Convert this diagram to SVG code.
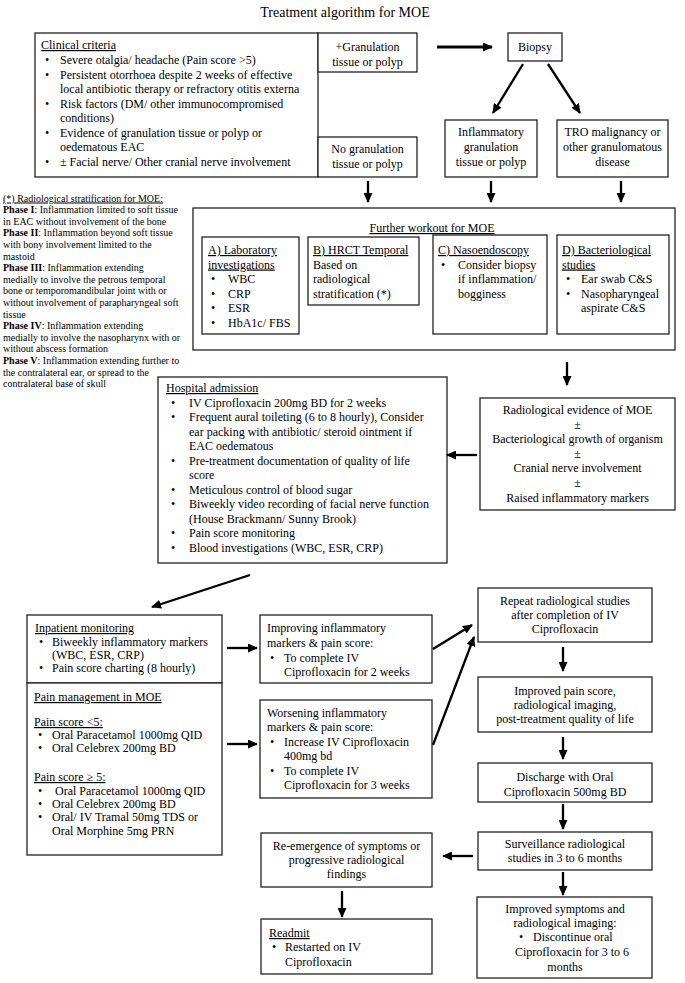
<svg xmlns="http://www.w3.org/2000/svg" width="685" height="983" viewBox="0 0 685 983">
<style>
text{font-family:"Liberation Serif","Times New Roman",serif;font-size:12px;fill:#000}
.t{font-size:14px}
.s{font-size:10px}
.c{text-anchor:middle}
.u{text-decoration:underline}
.b{font-weight:bold}
rect.n{fill:#fff;stroke:#222;stroke-width:1.3}
.ar{stroke:#000;stroke-width:2.3;fill:none;marker-end:url(#ah)}
.ar2{stroke-width:3}
</style>
<defs>
<marker id="ah" markerUnits="userSpaceOnUse" markerWidth="10" markerHeight="9" refX="9" refY="4.5" orient="auto"><path d="M0,0 L10,4.5 L0,9 z" fill="#000"/></marker>
</defs>
<rect width="685" height="983" fill="#fff"/>
<text class="t c" x="345" y="17">Treatment algorithm for MOE</text>

<g id="clinical">
<rect class="n" x="35" y="33" width="283" height="144"/>
<text class="u" x="41" y="49">Clinical criteria</text>
<text x="45" y="64">•</text><text x="60" y="64">Severe otalgia/ headache (Pain score &gt;5)</text>
<text x="45" y="78.5">•</text><text x="60" y="78.5">Persistent otorrhoea despite 2 weeks of effective</text>
<text x="60" y="93">local antibiotic therapy or refractory otitis externa</text>
<text x="45" y="107.5">•</text><text x="60" y="107.5">Risk factors (DM/ other immunocompromised</text>
<text x="60" y="122">conditions)</text>
<text x="45" y="136.5">•</text><text x="60" y="136.5">Evidence of granulation tissue or polyp or</text>
<text x="60" y="151">oedematous EAC</text>
<text x="45" y="165.5">•</text><text x="60" y="165.5">± Facial nerve/ Other cranial nerve involvement</text>
</g>
<g id="gran-yes">
<rect class="n" x="318" y="33" width="99" height="39"/>
<text class="c" x="367.5" y="51">+Granulation</text>
<text class="c" x="367.5" y="66">tissue or polyp</text>
</g>
<g id="gran-no">
<rect class="n" x="318" y="137" width="99" height="40"/>
<text class="c" x="367.5" y="153">No granulation</text>
<text class="c" x="367.5" y="168">tissue or polyp</text>
</g>
<g id="biopsy">
<rect class="n" x="508" y="33" width="54" height="28"/>
<text class="c" x="535" y="51">Biopsy</text>
</g>
<g id="inflam">
<rect class="n" x="445" y="120" width="92" height="57"/>
<text class="c" x="491" y="136">Inflammatory</text>
<text class="c" x="491" y="151">granulation</text>
<text class="c" x="491" y="166">tissue or polyp</text>
</g>
<g id="tro">
<rect class="n" x="557" y="120" width="111" height="57"/>
<text class="c" x="612.5" y="136">TRO malignancy or</text>
<text class="c" x="612.5" y="151">other granulomatous</text>
<text class="c" x="612.5" y="166">disease</text>
</g>

<g id="stratification">
<text class="s u" x="3" y="201.5">(*) Radiological stratification for MOE:</text>
<text class="s" x="3" y="213.1"><tspan class="b">Phase I</tspan>: Inflammation limited to soft tissue</text>
<text class="s" x="3" y="224.7">in EAC without involvement of the bone</text>
<text class="s" x="3" y="236.3"><tspan class="b">Phase II</tspan>: Inflammation beyond soft tissue</text>
<text class="s" x="3" y="247.9">with bony involvement limited to the</text>
<text class="s" x="3" y="259.5">mastoid</text>
<text class="s" x="3" y="271.1"><tspan class="b">Phase III</tspan>: Inflammation extending</text>
<text class="s" x="3" y="282.7">medially to involve the petrous temporal</text>
<text class="s" x="3" y="294.3">bone or temporomandibular joint with or</text>
<text class="s" x="3" y="305.9">without involvement of parapharyngeal soft</text>
<text class="s" x="3" y="317.5">tissue</text>
<text class="s" x="3" y="329.1"><tspan class="b">Phase IV</tspan>: Inflammation extending</text>
<text class="s" x="3" y="340.7">medially to involve the nasopharynx with or</text>
<text class="s" x="3" y="352.3">without abscess formation</text>
<text class="s" x="3" y="363.9"><tspan class="b">Phase V</tspan>: Inflammation extending further to</text>
<text class="s" x="3" y="375.5">the contralateral ear, or spread to the</text>
<text class="s" x="3" y="387.1">contralateral base of skull</text>
</g>

<g id="workout">
<rect class="n" x="193" y="208" width="482" height="142"/>
<text class="c u" x="432" y="232">Further workout for MOE</text>
</g>
<g id="lab">
<rect class="n" x="202" y="237" width="97" height="97"/>
<text class="u" x="208" y="254">A) Laboratory</text>
<text class="u" x="208" y="268.5">investigations</text>
<text x="211" y="283">•</text><text x="228" y="283">WBC</text>
<text x="211" y="297.5">•</text><text x="228" y="297.5">CRP</text>
<text x="211" y="312">•</text><text x="228" y="312">ESR</text>
<text x="211" y="326.5">•</text><text x="228" y="326.5">HbA1c/ FBS</text>
</g>
<g id="hrct">
<rect class="n" x="308" y="237" width="111" height="68"/>
<text class="u" x="313" y="254">B) HRCT Temporal</text>
<text x="313" y="268.5">Based on</text>
<text x="313" y="283">radiological</text>
<text x="313" y="297.5">stratification (*)</text>
</g>
<g id="naso">
<rect class="n" x="433" y="235" width="114" height="99"/>
<text class="u" x="438" y="254">C) Nasoendoscopy</text>
<text x="441" y="268.5">•</text><text x="458" y="268.5">Consider biopsy</text>
<text x="458" y="283">if inflammation/</text>
<text x="458" y="297.5">bogginess</text>
</g>
<g id="bact">
<rect class="n" x="557" y="235" width="112" height="99"/>
<text class="u" x="562" y="254">D) Bacteriological</text>
<text class="u" x="562" y="268.5">studies</text>
<text x="566" y="283">•</text><text x="581" y="283">Ear swab C&amp;S</text>
<text x="566" y="297.5">•</text><text x="581" y="297.5">Nasopharyngeal</text>
<text x="581" y="312">aspirate C&amp;S</text>
</g>

<g id="evidence">
<rect class="n" x="480" y="398" width="195" height="112"/>
<text class="c" x="577.5" y="414">Radiological evidence of MOE</text>
<text class="c" x="577.5" y="429">±</text>
<text class="c" x="577.5" y="443">Bacteriological growth of organism</text>
<text class="c" x="577.5" y="458">±</text>
<text class="c" x="577.5" y="472">Cranial nerve involvement</text>
<text class="c" x="577.5" y="487">±</text>
<text class="c" x="577.5" y="502">Raised inflammatory markers</text>
</g>

<g id="admission">
<rect class="n" x="158" y="377" width="289" height="186"/>
<text class="u" x="166" y="392">Hospital admission</text>
<text x="171" y="406.5">•</text><text x="189" y="406.5">IV Ciprofloxacin 200mg BD for 2 weeks</text>
<text x="171" y="421">•</text><text x="189" y="421">Frequent aural toileting (6 to 8 hourly), Consider</text>
<text x="189" y="435.5">ear packing with antibiotic/ steroid ointment if</text>
<text x="189" y="450">EAC oedematous</text>
<text x="171" y="464.5">•</text><text x="189" y="464.5">Pre-treatment documentation of quality of life</text>
<text x="189" y="479">score</text>
<text x="171" y="493.5">•</text><text x="189" y="493.5">Meticulous control of blood sugar</text>
<text x="171" y="508">•</text><text x="189" y="508">Biweekly video recording of facial nerve function</text>
<text x="189" y="522.5">(House Brackmann/ Sunny Brook)</text>
<text x="171" y="537">•</text><text x="189" y="537">Pain score monitoring</text>
<text x="171" y="551.5">•</text><text x="189" y="551.5">Blood investigations (WBC, ESR, CRP)</text>
</g>

<g id="inpatient">
<rect class="n" x="27" y="615" width="195" height="68"/>
<text class="u" x="35" y="632">Inpatient monitoring</text>
<text x="39" y="646">•</text><text x="52" y="646">Biweekly inflammatory markers</text>
<text x="52" y="659">(WBC, ESR, CRP)</text>
<text x="39" y="672">•</text><text x="52" y="672">Pain score charting (8 hourly)</text>
</g>
<g id="pain">
<rect class="n" x="27" y="683" width="195" height="172"/>
<text class="u" x="34" y="701">Pain management in MOE</text>
<text class="u" x="34" y="726">Pain score &lt;5:</text>
<text x="38" y="739">•</text><text x="52" y="739">Oral Paracetamol 1000mg QID</text>
<text x="38" y="752">•</text><text x="52" y="752">Oral Celebrex 200mg BD</text>
<text class="u" x="34" y="781">Pain score ≥ 5:</text>
<text x="38" y="795">•</text><text x="55" y="795">Oral Paracetamol 1000mg QID</text>
<text x="38" y="808">•</text><text x="52" y="808">Oral Celebrex 200mg BD</text>
<text x="38" y="821">•</text><text x="52" y="821">Oral/ IV Tramal 50mg TDS or</text>
<text x="52" y="835">Oral Morphine 5mg PRN</text>
</g>

<g id="improving">
<rect class="n" x="260" y="615" width="172" height="68"/>
<text x="267" y="632">Improving inflammatory</text>
<text x="267" y="647">markers &amp; pain score:</text>
<text x="270" y="662">•</text><text x="284" y="662">To complete IV</text>
<text x="284" y="676">Ciprofloxacin for 2 weeks</text>
</g>
<g id="worsening">
<rect class="n" x="260" y="700" width="172" height="98"/>
<text x="267" y="717">Worsening inflammatory</text>
<text x="267" y="731">markers &amp; pain score:</text>
<text x="270" y="746">•</text><text x="284" y="746">Increase IV Ciprofloxacin</text>
<text x="284" y="760">400mg bd</text>
<text x="270" y="775">•</text><text x="284" y="775">To complete IV</text>
<text x="284" y="789">Ciprofloxacin for 3 weeks</text>
</g>

<g id="repeat">
<rect class="n" x="478" y="588" width="174" height="54"/>
<text class="c" x="565" y="605">Repeat radiological studies</text>
<text class="c" x="565" y="619">after completion of IV</text>
<text class="c" x="565" y="633">Ciprofloxacin</text>
</g>
<g id="improved">
<rect class="n" x="478" y="677" width="174" height="55"/>
<text class="c" x="565" y="695">Improved pain score,</text>
<text class="c" x="565" y="709">radiological imaging,</text>
<text class="c" x="565" y="723">post-treatment quality of life</text>
</g>
<g id="discharge">
<rect class="n" x="478" y="763" width="174" height="39"/>
<text class="c" x="565" y="781">Discharge with Oral</text>
<text class="c" x="565" y="796">Ciprofloxacin 500mg BD</text>
</g>
<g id="surveillance">
<rect class="n" x="478" y="832" width="174" height="38"/>
<text class="c" x="565" y="848">Surveillance radiological</text>
<text class="c" x="565" y="862">studies in 3 to 6 months</text>
</g>
<g id="resolved">
<rect class="n" x="477" y="897" width="175" height="81"/>
<text class="c" x="565" y="913">Improved symptoms and</text>
<text class="c" x="565" y="927">radiological imaging:</text>
<text x="519" y="941">•</text><text x="533" y="941">Discontinue oral</text>
<text x="515" y="956">Ciprofloxacin for 3 to 6</text>
<text class="c" x="565" y="971">months</text>
</g>
<g id="reemergence">
<rect class="n" x="261" y="833" width="171" height="54"/>
<text class="c" x="346.5" y="850">Re-emergence of symptoms or</text>
<text class="c" x="346.5" y="864">progressive radiological</text>
<text class="c" x="346.5" y="878">findings</text>
</g>
<g id="readmit">
<rect class="n" x="261" y="919" width="171" height="55"/>
<text class="u" x="269" y="937">Readmit</text>
<text x="272" y="951">•</text><text x="285" y="951">Restarted on IV</text>
<text x="285" y="966">Ciprofloxacin</text>
</g>

<g id="connectors">
<line class="ar ar2" x1="437" y1="47" x2="492" y2="47"/>
<line class="ar" x1="523" y1="64" x2="493" y2="113"/>
<line class="ar" x1="548" y1="64" x2="580" y2="113"/>
<line class="ar" x1="368" y1="181" x2="368" y2="202"/>
<line class="ar" x1="491" y1="181" x2="491" y2="202"/>
<line class="ar" x1="621" y1="181" x2="621" y2="202"/>
<line class="ar" x1="567" y1="362" x2="567" y2="385"/>
<line class="ar" x1="477" y1="455" x2="447" y2="455"/>
<line class="ar" x1="250" y1="575" x2="152" y2="607"/>
<line class="ar" x1="227" y1="648" x2="257" y2="648"/>
<line class="ar" x1="227" y1="744" x2="257" y2="744"/>
<line class="ar" x1="433" y1="649" x2="472" y2="625"/>
<line class="ar" x1="433" y1="745" x2="474" y2="637"/>
<line class="ar" x1="563" y1="647" x2="563" y2="671"/>
<line class="ar" x1="563" y1="737" x2="563" y2="759"/>
<line class="ar" x1="563" y1="804" x2="563" y2="829"/>
<line class="ar" x1="563" y1="872" x2="563" y2="895"/>
<line class="ar" x1="473" y1="856" x2="443" y2="856"/>
<line class="ar" x1="342" y1="891" x2="342" y2="917"/>
</g>
</svg>
